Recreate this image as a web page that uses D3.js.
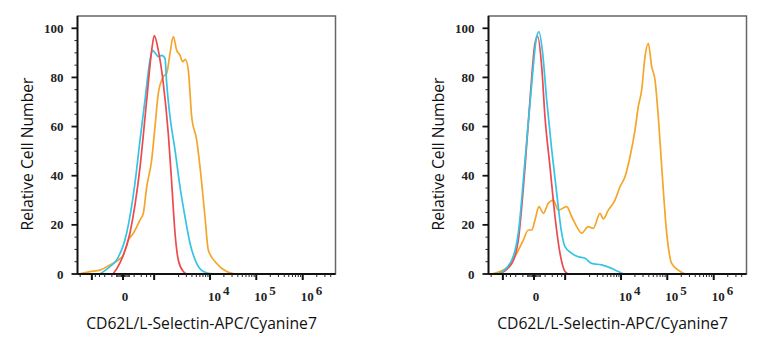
<!DOCTYPE html>
<html>
<head>
<meta charset="utf-8">
<style>
  body { margin: 0; background: #fff; }
  .tick-label { font-family: "Liberation Serif", "DejaVu Serif", serif; font-weight: bold; font-size: 13px; fill: #222; }
  .axis-title { font-family: "Open Sans", "Noto Sans", sans-serif; font-size: 15.7px; fill: #111; }
</style>
</head>
<body>
<script src="https://d3js.org/d3.v7.min.js"></script>
<script>
// histogram traces, [fluorescence, relative count]
const leftRed = [[-87,0],[-22,4.5],[56,16.7],[180,43.5],[304,70.8],[427,91],[505,97],[645,91],[865,77.6],[1147,57],[1382,37],[1651,16.7],[1968,5.7],[2560,1],[3053,0]];
const leftCyan = [[-289,0],[-123,3],[-50,5.7],[27,16.7],[110,37],[180,54.5],[268,70.8],[382,87],[456,91],[528,90],[645,88.5],[789,89],[952,87.8],[1049,77.6],[1259,64],[1651,50.5],[2153,35.5],[2796,23.3],[3622,12.5],[5097,4.3],[7126,1],[11600,0]];
const leftOrange = [[-1100,0],[-561,1],[-289,1.6],[-123,3.7],[-36,5.7],[2,7.7],[41,13.8],[91,16.6],[180,22],[236,24.7],[304,35.5],[427,46.4],[528,60],[645,73.5],[865,80.3],[1049,81.7],[1259,89.8],[1507,96.6],[1808,91],[2153,89],[2481,86.4],[2841,87.4],[3316,83],[3951,64],[5097,54.5],[6025,43.7],[7752,23.3],[9166,9.8],[13954,4.3],[22984,1],[34735,0]];

const rightRed = [[-661,0],[-274,4.3],[-160,13.8],[-76,43.7],[-30,70.8],[7,93.9],[27,96.6],[63,84.4],[98,64],[164,43.7],[249,23.3],[357,8.4],[495,1],[608,0]];
const rightCyan = [[-661,0],[-274,5.7],[-160,16.7],[-76,46.4],[-16,77.6],[19,96.6],[38,98.6],[69,91.2],[119,70.8],[191,50.5],[283,32.8],[400,16.6],[495,11.1],[744,8.4],[1084,7],[1564,6.4],[2234,4.3],[3752,3.7],[6242,2.3],[8718,1],[12199,0],[64056,0]];
const rightOrange = [[-969,0],[-350,3],[-184,8.4],[-95,13.8],[-44,17.9],[-16,17.9],[7,22],[38,27.4],[80,24.7],[140,28.8],[218,30.1],[317,26],[551,27.4],[744,23.3],[991,19.3],[1308,16.6],[1867,19.3],[2429,18.6],[3438,24.7],[4073,22.4],[5257,26],[7379,30.1],[9493,35.5],[12199,39.6],[15667,47.7],[20101,58.6],[23691,68.1],[28057,74.9],[33062,88.4],[38950,93.9],[46145,84.4],[54346,79],[64056,64],[75820,43.7],[97186,16.6],[124440,4.3],[172580,1.6],[240720,0]];

const yTicks = [0, 20, 40, 60, 80, 100];
const xMajor = [-500, 0, 500, 1e4, 1e5, 1e6];
const xLabels = [["0", null, 0], ["10", "4", 1e4], ["10", "5", 1e5], ["10", "6", 1e6]];
const xTitle = "CD62L/L-Selectin-APC/Cyanine7";
const yTitle = "Relative Cell Number";

const colors = { red: "#eb4a4e", cyan: "#36c3e6", orange: "#f4a52a" };

const W = 765, H = 350;
const pw = 258, ph = 258;

const svg = d3.select("body").append("svg")
  .attr("width", W).attr("height", H);

const x = d3.scaleSymlog().constant(136).domain([-1160, 5.07e6]).range([0, pw]);
const y = d3.scaleLinear().domain([0, 105]).range([ph, 0]);

// minor ticks
const xMinor = [];
for (let v = -400; v <= 400; v += 100) if (v !== 0) xMinor.push(v);
for (let v = -50; v <= 50; v += 10) if (v !== 0) xMinor.push(v);
for (const p of [1e3, 1e4, 1e5, 1e6]) for (let m = 2; m <= 9; m++) if (m * p < 5e6) xMinor.push(m * p);
xMinor.push(-1000);
const yMinor = d3.range(0, 105, 5).filter(v => v % 20 !== 0);

const line = d3.line().x(d => x(d[0])).y(d => y(d[1])).curve(d3.curveMonotoneX);

function panel(left, traces) {
  const g = svg.append("g").attr("transform", `translate(${left},16)`);

  // frame
  g.append("rect").attr("width", pw).attr("height", ph)
    .attr("fill", "none").attr("stroke", "#666").attr("stroke-width", 1.5);

  // traces
  for (const [data, c] of traces) {
    g.append("path").datum(data).attr("d", line)
      .attr("fill", "none").attr("stroke", c).attr("stroke-width", 1.7)
      .attr("stroke-linejoin", "round");
  }

  // y axis
  g.append("line").attr("x1", 0).attr("x2", 0).attr("y1", 0).attr("y2", ph)
    .attr("stroke", "#111").attr("stroke-width", 1.8);
  g.selectAll(".ymin").data(yMinor).join("line")
    .attr("x1", -3).attr("x2", 0).attr("y1", d => y(d)).attr("y2", d => y(d))
    .attr("stroke", "#222").attr("stroke-width", 1);
  g.selectAll(".ymaj").data(yTicks).join("line")
    .attr("x1", -6).attr("x2", 0).attr("y1", d => y(d)).attr("y2", d => y(d))
    .attr("stroke", "#111").attr("stroke-width", 1.8);
  g.selectAll(".ylab").data(yTicks).join("text")
    .attr("class", "tick-label")
    .attr("x", -14).attr("y", d => y(d)).attr("dy", "0.35em")
    .attr("text-anchor", "end").text(d => d);

  // x axis
  g.append("line").attr("x1", 0).attr("x2", pw).attr("y1", ph).attr("y2", ph)
    .attr("stroke", "#111").attr("stroke-width", 1.8);
  g.selectAll(".xmin").data(xMinor).join("line")
    .attr("x1", d => x(d)).attr("x2", d => x(d)).attr("y1", ph).attr("y2", ph + 3)
    .attr("stroke", "#222").attr("stroke-width", 1);
  g.selectAll(".xmaj").data(xMajor).join("line")
    .attr("x1", d => x(d)).attr("x2", d => x(d)).attr("y1", ph).attr("y2", ph + 6)
    .attr("stroke", "#111").attr("stroke-width", 2);

  const lab = g.selectAll(".xlab").data(xLabels).join("text")
    .attr("class", "tick-label")
    .attr("x", d => d[1] ? x(d[2]) - 2 : x(d[2]) + 2)
    .attr("y", ph + 27)
    .attr("text-anchor", d => d[1] ? "start" : "middle");
  lab.append("tspan").text(d => d[0]);
  lab.filter(d => d[1]).append("tspan").attr("dy", -6).attr("dx", 2).text(d => d[1]);

  // titles
  g.append("text").attr("class", "axis-title")
    .attr("transform", `translate(-45,${ph / 2 + 9}) rotate(-90)`)
    .attr("text-anchor", "middle").text(yTitle);
  g.append("text").attr("class", "axis-title")
    .attr("x", pw / 2 - 5).attr("y", ph + 55)
    .attr("text-anchor", "middle").text(xTitle);
}

panel(77.5, [[leftOrange, colors.orange], [leftCyan, colors.cyan], [leftRed, colors.red]]);
panel(488.5, [[rightOrange, colors.orange], [rightRed, colors.red], [rightCyan, colors.cyan]]);
</script>
</body>
</html>
